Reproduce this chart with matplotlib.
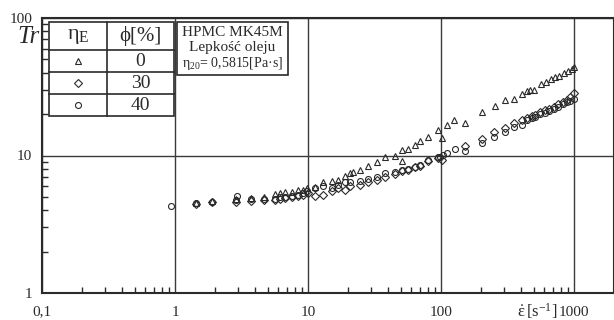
import matplotlib
matplotlib.use("Agg")
from matplotlib import pyplot as plt
from matplotlib.lines import Line2D
from matplotlib.patches import Rectangle
from matplotlib.ticker import FixedLocator, LogLocator, NullFormatter

plt.rcParams['font.family'] = ['Liberation Serif', 'DejaVu Serif']
plt.rcParams['mathtext.fontset'] = 'custom'
plt.rcParams['mathtext.rm'] = 'Liberation Serif'
plt.rcParams['mathtext.it'] = 'Liberation Serif'
plt.rcParams['mathtext.bf'] = 'Liberation Serif:bold'

# data: shear rate [1/s] vs Tr
tri_x = [1.43, 1.89, 2.87, 3.73, 4.67, 5.65, 6.16, 6.71, 7.54, 8.41, 9.22, 9.8,
         11.3, 12.9, 15.1, 16.9, 19.0, 20.7, 21.9, 24.6, 28.4, 32.9, 37.9, 45.1,
         51.2, 51.2, 56.8, 63.8, 69.5, 79.4, 95.4, 101, 110, 126, 151, 202, 254,
         304, 354, 404, 441, 467, 500, 565, 616, 668, 720, 775, 841, 906, 961, 1000]
tri_y = [4.52, 4.64, 4.86, 4.94, 4.98, 5.28, 5.34, 5.40, 5.46, 5.58, 5.65, 5.81,
         5.87, 6.38, 6.49, 6.68, 7.06, 7.48, 7.55, 7.81, 8.35, 8.93, 9.79, 10.0,
         10.9, 9.09, 11.2, 11.9, 12.8, 13.7, 15.3, 13.3, 16.6, 18.0, 17.3, 20.8, 22.9,
         25.5, 25.8, 28.2, 29.5, 29.8, 30.0, 33.1, 34.3, 36.1, 37.1, 37.9, 39.7, 41.2, 42.9, 43.7]

dia_x = [1.43, 1.89, 2.87, 3.73, 4.67, 5.65, 6.16, 6.71, 7.54, 8.41, 9.22, 10.0,
         11.3, 12.9, 15.1, 16.9, 19.0, 20.7, 24.6, 28.4, 32.9, 37.9, 45.1, 51.2,
         56.8, 63.8, 69.5, 79.4, 95.4, 101, 151, 202, 252, 303, 354, 404, 441, 481,
         509, 555, 605, 652, 707, 762, 822, 881, 933, 1000]
dia_y = [4.45, 4.58, 4.62, 4.70, 4.72, 4.72, 4.80, 4.88, 4.95, 5.05, 5.15, 5.30,
         5.05, 5.19, 5.49, 5.81, 5.65, 5.97, 6.14, 6.38, 6.68, 6.99, 7.39, 7.68,
         7.90, 8.20, 8.45, 9.10, 9.60, 9.35, 11.7, 13.1, 14.8, 15.9, 17.1, 18.1, 18.8, 19.4,
         19.8, 20.7, 21.3, 21.9, 22.7, 23.6, 24.5, 25.3, 26.7, 28.4]

cir_x = [0.93, 1.43, 1.89, 2.87, 2.95, 3.73, 4.67, 5.65, 6.16, 6.71, 7.54, 8.41,
         9.22, 9.8, 11.3, 12.9, 15.1, 16.9, 19.0, 20.7, 24.6, 28.4, 32.9, 37.9,
         45.1, 51.2, 56.8, 63.8, 69.5, 79.4, 95.4, 98.3, 104, 111, 127, 151, 202,
         252, 303, 354, 404, 441, 481, 509, 555, 605, 652, 707, 762, 822, 881, 933, 1000]
cir_y = [4.27, 4.50, 4.62, 4.75, 5.10, 4.80, 4.80, 4.85, 5.00, 5.00, 5.10, 5.20,
         5.35, 5.55, 5.81, 5.97, 5.81, 6.14, 6.38, 6.43, 6.49, 6.76, 6.99, 7.48,
         7.60, 7.81, 8.00, 8.27, 8.50, 9.24, 9.72, 9.78, 10.1, 10.5, 11.2, 10.7, 12.4,
         13.7, 14.9, 16.2, 16.8, 18.0, 18.6, 19.0, 19.9, 20.5, 21.1, 21.9, 22.6, 23.6, 24.4, 24.9, 25.6]

phi_values = ["0", "30", "40"]
markers = ["^", "D", "o"]
x_ticks = [0.1, 1, 10, 100, 1000]
x_labels = ["0,1", "1", "10", "100", "1000"]
y_ticks = [1, 10, 100]
y_labels = ["1", "10", "100"]
info_lines = ["HPMC MK45M", "Lepkość oleju", r"η$_{20}$= 0,5815[Pa·s]"]

W, H = 614, 320
ink = "#2a2a2a"

def fp(x, y):
    # figure pixel -> figure fraction
    return x / W, 1 - y / H

fig = plt.figure(figsize=(W / 100, H / 100), dpi=100)
ax = fig.add_axes([42 / W, 1 - 293 / H, 1 - 42 / W, (293 - 18) / H])
ax.set_xscale("log")
ax.set_yscale("log")
ax.set_xlim(0.1, 10 ** (3 + 40 / 133))
ax.set_ylim(1, 100)

mk = dict(linestyle="none", markerfacecolor="none", markeredgecolor=ink, markeredgewidth=0.8)
ax.plot(tri_x, tri_y, marker="^", markersize=5, **mk)
ax.plot(dia_x, dia_y, marker="D", markersize=3.8, **mk)
ax.plot(cir_x, cir_y, marker="o", markersize=4.3, **mk)

ax.xaxis.set_major_locator(FixedLocator(x_ticks))
ax.set_xticklabels(x_labels)
ax.yaxis.set_major_locator(FixedLocator(y_ticks))
ax.set_yticklabels(y_labels)
ax.xaxis.set_minor_locator(LogLocator(base=10, subs=range(2, 10)))
ax.yaxis.set_minor_locator(LogLocator(base=10, subs=range(2, 10)))
ax.xaxis.set_minor_formatter(NullFormatter())
ax.yaxis.set_minor_formatter(NullFormatter())
ax.tick_params(which="major", length=0, labelsize=11, colors=ink)
ax.tick_params(axis="x", which="major", pad=9)
ax.tick_params(axis="y", which="major", pad=7)
ax.tick_params(which="minor", direction="in", length=4, width=1, color=ink)
ax.grid(True, which="major", color="#3a3a3a", linewidth=1)
for s in ax.spines.values():
    s.set_linewidth(1.5)
    s.set_color(ink)

# axis labels
x, y = fp(28, 37)
fig.text(x, y, "Tr", fontsize=18, style="italic", ha="center", va="center", color=ink)
x, y = fp(537, 311)
fig.text(x, y, r"$\dot{\varepsilon}\,[\mathrm{s}^{-1}]$", fontsize=12, ha="center", va="center", color=ink)

# legend table
L, M, R = 49, 107, 174
rows = [22, 50, 72, 94, 116]
fig.add_artist(Rectangle(fp(L, rows[-1]), (R - L) / W, (rows[-1] - rows[0]) / H,
                         transform=fig.transFigure, facecolor="white", edgecolor=ink, lw=1.2))
for r in rows[1:-1]:
    fig.add_artist(Line2D([L / W, R / W], [1 - r / H] * 2, transform=fig.transFigure, color=ink, lw=1.2))
fig.add_artist(Line2D([M / W] * 2, [1 - rows[0] / H, 1 - rows[-1] / H], transform=fig.transFigure, color=ink, lw=1.2))

cx1, cx2 = (L + M) / 2, (M + R) / 2
fig.text(cx1 / W, 1 - 37 / H, r"η$_\mathrm{E}$", fontsize=16, ha="center", va="center", color=ink)
fig.text(cx2 / W, 1 - 36 / H, "ϕ[%]", fontsize=15, ha="center", va="center", color=ink)
msz = {"^": 5, "D": 3.8, "o": 4.3}
for i, (m, v) in enumerate(zip(markers, phi_values)):
    cy = (rows[i + 1] + rows[i + 2]) / 2
    fig.add_artist(Line2D([cx1 / W], [1 - cy / H], transform=fig.transFigure,
                          marker=m, markersize=msz[m], **mk))
    fig.text(cx2 / W, 1 - (cy + 1) / H, v, fontsize=14, ha="center", va="center", color=ink)

# info box
fig.add_artist(Rectangle(fp(177, 75), (288 - 177) / W, (75 - 22) / H,
                         transform=fig.transFigure, facecolor="white", edgecolor=ink, lw=1.2))
for t, yy, fs in zip(info_lines, [33, 48, 64], [11, 11, 10]):
    fig.text(232.5 / W, 1 - yy / H, t, fontsize=fs, ha="center", va="center", color=ink)

fig.savefig("out.png", dpi=100)
plt.close("all")
